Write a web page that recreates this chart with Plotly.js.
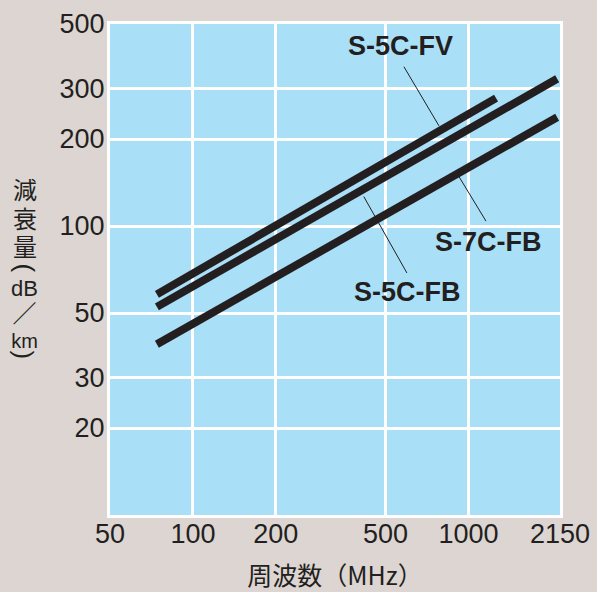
<!DOCTYPE html>
<html>
<head>
<meta charset="utf-8">
<script src="https://cdn.plot.ly/plotly-3.0.1.min.js"></script>
<style>html,body{margin:0;padding:0;background:#dcd5d2;}#chart{width:597px;height:592px;}</style>
</head>
<body>
<div id="chart"></div>
<script>
// Frequency (MHz) and attenuation (dB/km)
const freqFV = [74, 1260];
const attFV = [58, 277];
const freq5FB = [74, 2100];
const att5FB = [52.5, 323];
const freq7FB = [74, 2100];
const att7FB = [39, 238];

const xTicks = [50, 100, 200, 500, 1000, 2150];
const yTicks = [20, 30, 50, 100, 200, 300, 500];

// series label positions and leader lines (data values)
const labels = [
  {name: 'S-5C-FV', tx: 569, ty: 420, lx0: 579, ly0: 360, lx1: 782, ly1: 222},
  {name: 'S-7C-FB', tx: 1178, ty: 88, lx0: 917, ly0: 150, lx1: 1158, ly1: 104},
  {name: 'S-5C-FB', tx: 603, ty: 59.3, lx0: 414, ly0: 128, lx1: 598, ly1: 68.8}
];

// vertical y-axis title pieces (paper y); parentheses turned to lie flat
const LIB = '"Liberation Sans", "Noto Sans CJK JP", sans-serif';
const yTitleParts = [
  {t: '減', y: 0.660, s: 24, a: 0},
  {t: '衰', y: 0.601, s: 24, a: 0},
  {t: '量', y: 0.544, s: 24, a: 0},
  {t: '(', y: 0.503, s: 26, a: 90},
  {t: '<span style="font-size:22px">dB</span><br><span style="font-size:24px">／</span><br>km', y: 0.409, s: 20, a: 0},
  {t: ')', y: 0.326, s: 26, a: 90}
];

const lineColor = '#231f20';
const mk = (x, y, n) => ({x: x, y: y, name: n, type: 'scatter', mode: 'lines',
  line: {color: lineColor, width: 8}, hoverinfo: 'x+y+name'});

const data = [mk(freqFV, attFV, 'S-5C-FV'), mk(freq5FB, att5FB, 'S-5C-FB'), mk(freq7FB, att7FB, 'S-7C-FB')];

const L = Math.log10;
const annotations = [];
labels.forEach(l => {
  annotations.push({x: L(l.tx), y: L(l.ty), xref: 'x', yref: 'y', text: l.name, showarrow: false,
    font: {family: '"Liberation Sans", Arial, sans-serif', size: 27, color: lineColor, weight: 'bold'}});
  annotations.push({x: L(l.lx1), y: L(l.ly1), ax: L(l.lx0), ay: L(l.ly0), axref: 'x', ayref: 'y', xref: 'x', yref: 'y',
    text: '', showarrow: true, arrowhead: 0, arrowwidth: 1, arrowcolor: lineColor, standoff: 0, startstandoff: 0});
});
yTitleParts.forEach(p => {
  annotations.push({xref: 'paper', yref: 'paper', x: -0.19, y: p.y, xanchor: 'center', yanchor: 'middle',
    text: p.t, showarrow: false, textangle: p.a, borderpad: 0, align: 'center',
    font: {family: LIB, size: p.s, color: lineColor}});
});

const layout = {
  width: 597, height: 592,
  margin: {l: 110, r: 37, t: 24, b: 77},
  paper_bgcolor: '#dcd5d2',
  plot_bgcolor: '#aadff8',
  showlegend: false,
  font: {family: '"Liberation Sans", Arial, sans-serif', color: lineColor},
  xaxis: {
    type: 'log', range: [L(50), L(2150)],
    tickvals: xTicks, ticktext: xTicks.map(String),
    tickfont: {size: 27, color: lineColor, weight: 'normal'},
    showgrid: true, gridcolor: '#ffffff', gridwidth: 3,
    showline: true, linecolor: '#ffffff', linewidth: 3, mirror: true,
    ticks: '', zeroline: false, ticklabelstandoff: -7,
    title: {text: '周波数（MHz）', font: {family: '"Noto Sans CJK JP", sans-serif', size: 25, color: lineColor}, standoff: 21}
  },
  yaxis: {
    type: 'log', range: [1, L(500)],
    tickvals: yTicks, ticktext: yTicks.map(String),
    tickfont: {size: 27, color: lineColor, weight: 'normal'},
    showgrid: true, gridcolor: '#ffffff', gridwidth: 3,
    showline: true, linecolor: '#ffffff', linewidth: 3, mirror: true,
    ticks: '', zeroline: false, ticklabelstandoff: -3
  },
  annotations: annotations
};

Plotly.newPlot('chart', data, layout, {displayModeBar: false, staticPlot: true});
</script>
</body>
</html>
